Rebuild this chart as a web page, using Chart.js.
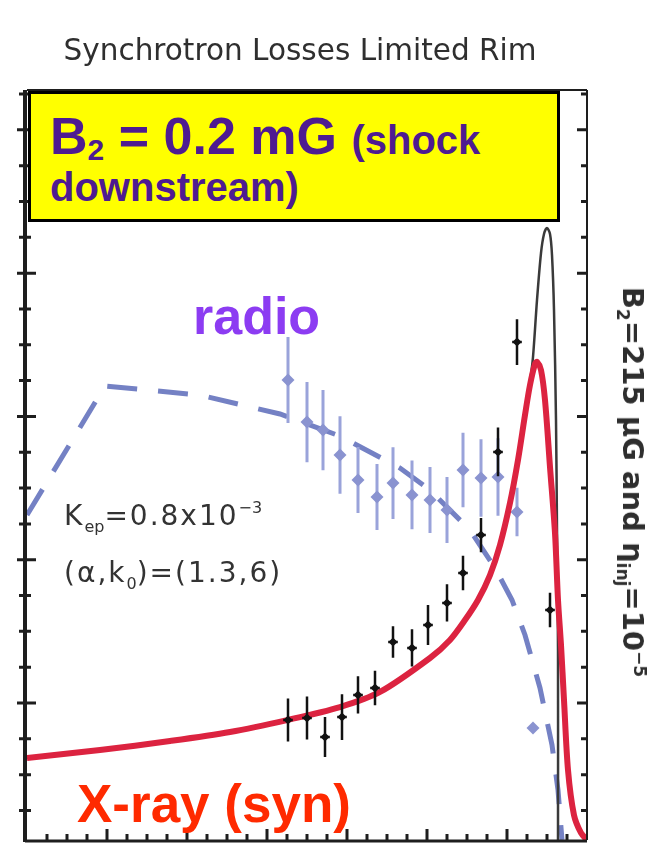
<!DOCTYPE html>
<html>
<head>
<meta charset="utf-8">
<script src="https://cdn.jsdelivr.net/npm/chart.js@4"></script>
<style>
  body { margin: 0; background: #fff; }
  #wrap { position: relative; width: 666px; height: 843px; overflow: hidden; }
  #wrap canvas { position: absolute; left: 0; top: 0; }
  .txt { position: absolute; white-space: nowrap; line-height: 1; }
  .title { left: 0; width: 600px; top: 33px; text-align: center; font: 29.5px "DejaVu Sans", sans-serif; color: #2f2f2f; }
  .box { position: absolute; left: 28px; top: 91px; width: 532px; height: 131px; box-sizing: border-box;
         background: #ffff00; border: 3px solid #000; }
  .box .txt { font-family: "Liberation Sans", Arial, sans-serif; font-weight: bold; color: #4e1b91; }
  .radio { left: 193px; top: 286px; font: bold 52px "Liberation Sans", Arial, sans-serif; color: #8c3cf2; }
  .xray { left: 77px; top: 773px; font: bold 53px "Liberation Sans", Arial, sans-serif; color: #ff2a00; }
  .param { left: 64px; font: 28px "DejaVu Sans", sans-serif; color: #333; letter-spacing: 2px; }
  .lo { position: relative; font-size: 16px; top: 7px; letter-spacing: 0; }
  .hi { position: relative; font-size: 16px; top: -12px; letter-spacing: 0; }
  .side { left: 633px; top: 482px; font: bold 29px "DejaVu Sans", sans-serif; color: #2e2e2e;
          transform: translate(-50%, -50%) rotate(90deg); }
  .side span { font-size: 17px; position: relative; }
</style>
</head>
<body>
<div id="wrap">
  <canvas id="rimChart" width="666" height="843"></canvas>
  <div class="txt title">Synchrotron Losses Limited Rim</div>
  <div class="box">
    <div class="txt" style="left:19px; top:16px; font-size:52px;">B<span style="font-size:30px; position:relative; top:6px;">2</span> = 0.2 mG <span style="font-size:40px;">(shock</span></div>
    <div class="txt" style="left:19px; top:73px; font-size:40px;">downstream)</div>
  </div>
  <div class="txt radio">radio</div>
  <div class="txt xray">X-ray (syn)</div>
  <div class="txt param" style="top:499px;">K<span class="lo">ep</span>=0.8x10<span class="hi">−3</span></div>
  <div class="txt param" style="top:556px;">(α,k<span class="lo">0</span>)=(1.3,6)</div>
  <div class="txt side">B<span style="top:6px;">2</span>=215 μG and η<span style="top:6px;">inj</span>=10<span style="top:-11px;">−5</span></div>
</div>
<script>
// radial profile across the rim (x: distance, y: log brightness, arbitrary units)
const synX = [0, 0.9125, 1.7875, 2.5375, 3.25, 3.9125, 4.4125, 5.0375, 5.2875, 5.475, 5.6375, 5.7875, 5.9125, 6.0375, 6.1375, 6.225, 6.2875, 6.35, 6.375, 6.425, 6.475, 6.5375, 6.6, 6.6375, 6.675, 6.7125, 6.7625, 6.8375, 6.925, 7.0];
const synY = [-0.384, -0.328, -0.265, -0.202, -0.119, -0.028, 0.077, 0.314, 0.440, 0.579, 0.719, 0.893, 1.103, 1.396, 1.696, 2.010, 2.219, 2.366, 2.380, 2.324, 2.114, 1.647, 1.186, 0.719, 0.405, 0.021, -0.468, -0.782, -0.907, -0.956];

const totalX = [0, 0.9125, 1.7875, 2.5375, 3.25, 3.9125, 4.4125, 5.0375, 5.2875, 5.475, 5.6375, 5.7875, 5.9125, 6.0375, 6.1375, 6.225, 6.2875, 6.325, 6.375, 6.425, 6.4625, 6.5, 6.5375, 6.5625, 6.5875, 6.6125, 6.625, 6.6375, 6.6375];
const totalY = [-0.384, -0.328, -0.265, -0.202, -0.119, -0.028, 0.077, 0.314, 0.440, 0.579, 0.719, 0.893, 1.103, 1.396, 1.696, 2.010, 2.240, 2.414, 2.812, 3.140, 3.273, 3.315, 3.273, 3.126, 2.742, 1.975, 1.207, 0.370, -0.956];

const radioModelX = [0, 0.975, 2.1625, 3.1625, 3.9125, 4.6625, 5.0375, 5.5375, 5.85, 6.0625, 6.225, 6.4125, 6.5625, 6.6375, 6.6875];
const radioModelY = [1.312, 2.212, 2.149, 2.017, 1.863, 1.640, 1.486, 1.207, 0.942, 0.719, 0.475, 0.105, -0.293, -0.607, -0.956];

const radioX = [3.2625, 3.5, 3.7, 3.9125, 4.1375, 4.375, 4.575, 4.8125, 5.0375, 5.25, 5.45, 5.675, 5.8875, 6.125, 6.325];
const radioY = [2.254, 1.961, 1.905, 1.731, 1.556, 1.438, 1.535, 1.452, 1.417, 1.347, 1.626, 1.570, 1.577, 1.333, -0.174];
const radioErr = [0.30, 0.28, 0.28, 0.27, 0.23, 0.23, 0.25, 0.24, 0.23, 0.23, 0.26, 0.27, 0.27, 0.17, 0.0];

const xrayX = [3.2625, 3.5, 3.725, 3.9375, 4.1375, 4.35, 4.575, 4.8125, 5.0125, 5.25, 5.45, 5.675, 5.8875, 6.125, 6.5375];
const xrayY = [-0.119, -0.105, -0.237, -0.098, 0.056, 0.105, 0.426, 0.384, 0.544, 0.698, 0.907, 1.172, 1.752, 2.519, 0.649];
const xrayErr = [0.15, 0.15, 0.14, 0.16, 0.13, 0.12, 0.11, 0.13, 0.14, 0.13, 0.12, 0.12, 0.17, 0.16, 0.12];
const xrayXErr = 0.06;

const X_MIN = 0, X_MAX = 7;
const Y_MIN = -0.956, Y_MAX = 4.278;

const toPoints = (xs, ys) => xs.map((x, i) => ({ x: x, y: ys[i] }));

// vertical error bars as separate line segments (null breaks the line)
function vBars(xs, ys, errs) {
  const pts = [];
  xs.forEach((x, i) => {
    if (!errs[i]) return;
    pts.push({ x: x, y: ys[i] - errs[i] }, { x: x, y: ys[i] + errs[i] }, { x: x, y: null });
  });
  return pts;
}
function hBars(xs, ys, dx) {
  const pts = [];
  xs.forEach((x, i) => {
    pts.push({ x: x - dx, y: ys[i] }, { x: x + dx, y: ys[i] }, { x: x, y: null });
  });
  return pts;
}

// axis frame with minor and major ticks, placed through the scales
const frame = {
  id: 'frame',
  afterDatasetsDraw(chart) {
    const { ctx, chartArea: a, scales: { x, y } } = chart;
    ctx.save();
    ctx.strokeStyle = '#1e1e1e';
    ctx.lineCap = 'butt';

    // top + right
    ctx.lineWidth = 2;
    ctx.beginPath();
    ctx.moveTo(a.left, a.top); ctx.lineTo(a.right, a.top);
    ctx.moveTo(a.right, a.top); ctx.lineTo(a.right, a.bottom);
    ctx.stroke();
    // left + bottom
    ctx.lineWidth = 4;
    ctx.beginPath();
    ctx.moveTo(a.left - 2, a.top); ctx.lineTo(a.left - 2, a.bottom + 2);
    ctx.stroke();
    ctx.lineWidth = 3;
    ctx.beginPath();
    ctx.moveTo(a.left - 2, a.bottom + 1); ctx.lineTo(a.right, a.bottom + 1);
    ctx.stroke();

    ctx.lineWidth = 3;
    ctx.beginPath();
    for (let v = -0.75; v <= Y_MAX; v += 0.25) {
      const py = y.getPixelForValue(v);
      const major = Math.abs(v - Math.round(v)) < 1e-6;
      // left: crossing the axis
      ctx.moveTo(a.left - (major ? 10 : 8), py); ctx.lineTo(a.left + (major ? 9 : 4), py);
      // right: pointing inward
      ctx.moveTo(a.right, py); ctx.lineTo(a.right - (major ? 10 : 6), py);
    }
    for (let v = 0.25; v < X_MAX; v += 0.25) {
      const px = x.getPixelForValue(v);
      const major = Math.abs(v - Math.round(v)) < 1e-6;
      ctx.moveTo(px, a.bottom + 2); ctx.lineTo(px, a.bottom - (major ? 11 : 6));
    }
    ctx.stroke();
    ctx.restore();
  }
};

// first dataset is drawn on top
new Chart(document.getElementById('rimChart'), {
  type: 'scatter',
  data: {
    datasets: [
      {
        label: 'X-ray',
        data: toPoints(xrayX, xrayY),
        pointStyle: 'rectRot', pointRadius: 4.5,
        backgroundColor: '#111', borderColor: '#111', borderWidth: 0
      },
      {
        label: 'X-ray error x',
        data: hBars(xrayX, xrayY, xrayXErr),
        showLine: true, spanGaps: false,
        borderColor: '#111', borderWidth: 2.5, pointRadius: 0
      },
      {
        label: 'X-ray error',
        data: vBars(xrayX, xrayY, xrayErr),
        showLine: true, spanGaps: false,
        borderColor: '#111', borderWidth: 2.5, pointRadius: 0
      },
      {
        label: 'X-ray (syn)',
        data: toPoints(synX, synY),
        showLine: true, tension: 0.3,
        borderColor: '#dc2340', borderWidth: 6, pointRadius: 0
      },
      {
        label: 'total',
        data: toPoints(totalX, totalY),
        showLine: true, tension: 0.3,
        borderColor: '#3a3a3a', borderWidth: 2.5, pointRadius: 0
      },
      {
        label: 'radio',
        data: toPoints(radioX, radioY),
        pointStyle: 'rectRot', pointRadius: 6.5,
        backgroundColor: '#8a93d0', borderColor: '#8a93d0', borderWidth: 0
      },
      {
        label: 'radio error',
        data: vBars(radioX, radioY, radioErr),
        showLine: true, spanGaps: false,
        borderColor: '#9aa3da', borderWidth: 3, pointRadius: 0
      },
      {
        label: 'radio model',
        data: toPoints(radioModelX, radioModelY),
        showLine: true, tension: 0,
        borderColor: '#7481c4', borderWidth: 5, borderDash: [30, 21], pointRadius: 0
      }
    ]
  },
  options: {
    responsive: false,
    animation: false,
    layout: { autoPadding: false, padding: { left: 27, right: 79, top: 90, bottom: 3 } },
    plugins: {
      legend: { display: false },
      title: { display: false },
      tooltip: { enabled: false }
    },
    scales: {
      x: { type: 'linear', min: X_MIN, max: X_MAX, display: false },
      y: { type: 'linear', min: Y_MIN, max: Y_MAX, display: false }
    }
  },
  plugins: [frame]
});
</script>
</body>
</html>
